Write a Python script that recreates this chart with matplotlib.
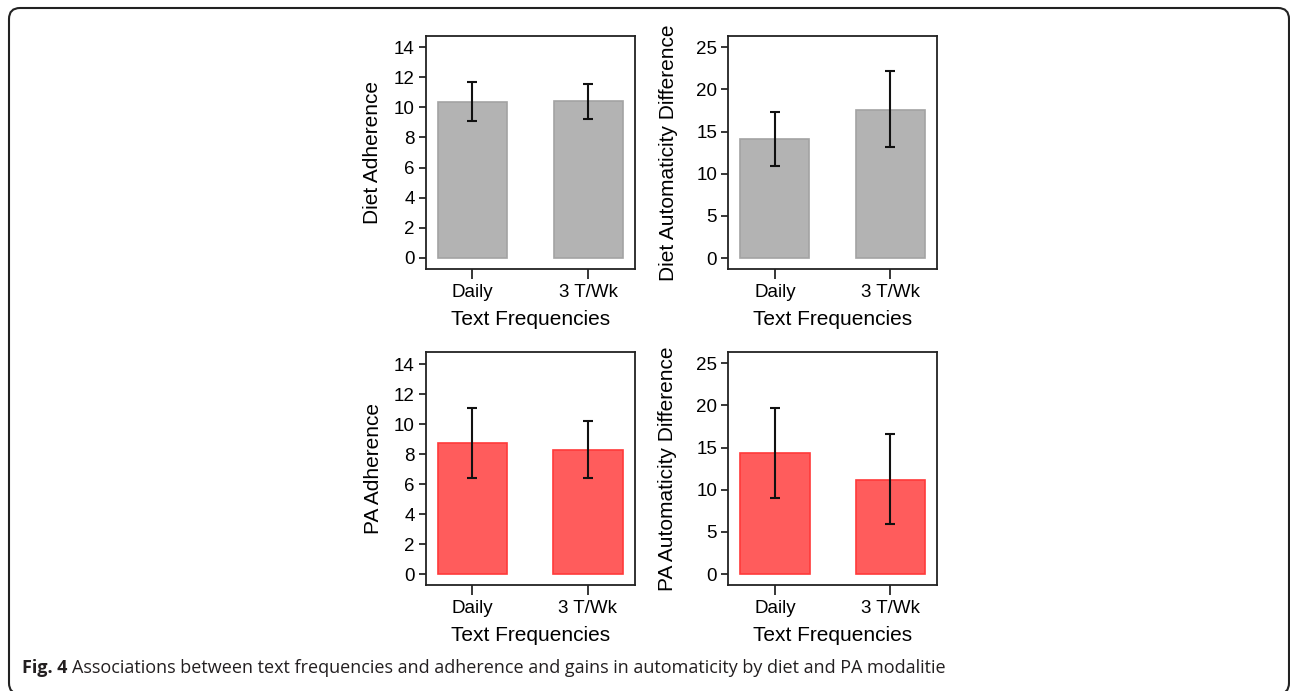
import matplotlib
matplotlib.use("Agg")
import matplotlib.pyplot as plt
from matplotlib.patches import FancyBboxPatch
from matplotlib.transforms import IdentityTransform

# ---- data ----
categories = ["Daily", "3 T/Wk"]
diet_adherence = [10.38, 10.40]
diet_adherence_lo = [9.11, 9.25]
diet_adherence_hi = [11.67, 11.58]

diet_auto = [14.08, 17.60]
diet_auto_lo = [10.91, 13.13]
diet_auto_hi = [17.28, 22.20]

pa_adherence = [8.73, 8.29]
pa_adherence_lo = [6.42, 6.38]
pa_adherence_hi = [11.09, 10.20]

pa_auto = [14.32, 11.19]
pa_auto_lo = [8.98, 5.97]
pa_auto_hi = [19.73, 16.57]

adh_ticks = [0, 2, 4, 6, 8, 10, 12, 14]
auto_ticks = [0, 5, 10, 15, 20, 25]

xlabel = "Text Frequencies"
caption_bold = "Fig. 4"
caption_text = "Associations between text frequencies and adherence and gains in automaticity by diet and PA modalitie"

plt.rcParams["font.family"] = ["Liberation Sans", "DejaVu Sans"]

W, H = 1290, 691
fig = plt.figure(figsize=(W / 100, H / 100), dpi=100)

gray_fc, gray_ec = "#b3b3b3", "#a3a3a3"
red_fc, red_ec = "#ff5c5c", "#ff3a3a"

def px_axes(x0, y0, x1, y1):
    return fig.add_axes([x0 / W, 1 - y1 / H, (x1 - x0) / W, (y1 - y0) / H])

panels = [
    (px_axes(425.7, 35.7, 635.0, 269.0), diet_adherence, diet_adherence_lo, diet_adherence_hi,
     "Diet Adherence", adh_ticks, (-0.75, 14.77), gray_fc, gray_ec, -0.252),
    (px_axes(728.3, 35.7, 936.9, 269.3), diet_auto, diet_auto_lo, diet_auto_hi,
     "Diet Automaticity Difference", auto_ticks, (-1.34, 26.38), gray_fc, gray_ec, -0.289),
    (px_axes(425.7, 351.7, 634.5, 585.0), pa_adherence, pa_adherence_lo, pa_adherence_hi,
     "PA Adherence", adh_ticks, (-0.73, 14.82), red_fc, red_ec, -0.252),
    (px_axes(728.3, 351.7, 937.0, 585.3), pa_auto, pa_auto_lo, pa_auto_hi,
     "PA Automaticity Difference", auto_ticks, (-1.34, 26.38), red_fc, red_ec, -0.289),
]

for ax, vals, lo, hi, ylab, yt, ylim, fc, ec, ylx in panels:
    x = list(range(len(categories)))
    ax.bar(x, vals, width=0.6, color=fc, edgecolor=ec, linewidth=1.2, zorder=2)
    err = [[v - l for v, l in zip(vals, lo)], [h - v for v, h in zip(vals, hi)]]
    ax.errorbar(x, vals, yerr=err, fmt="none", ecolor="#111111", elinewidth=1.5,
                capsize=3.8, capthick=1.5, zorder=3)
    ax.set_xlim(-0.403, 1.403)
    ax.set_ylim(*ylim)
    ax.set_yticks(yt)
    ax.set_xticks(x)
    ax.set_xticklabels(categories)
    ax.tick_params(axis="y", direction="out", length=5, width=1.1, pad=3, labelsize=13.5)
    ax.tick_params(axis="x", direction="out", length=7, width=1.1, pad=3.5, labelsize=13.5)
    for sp in ax.spines.values():
        sp.set_linewidth(1.3)
        sp.set_color("#222222")
    ax.set_ylabel(ylab, fontsize=15, va="center")
    ax.yaxis.set_label_coords(ylx, 0.5)
    ax.set_xlabel(xlabel, fontsize=15, va="center")
    ax.xaxis.set_label_coords(0.5, -0.215)

# frame
frame = FancyBboxPatch((9, -3), 1280, 686, boxstyle="round,pad=0,rounding_size=11",
                       transform=IdentityTransform(), fill=False, edgecolor="#222222",
                       linewidth=1.5)
fig.add_artist(frame)

# caption
cap_y = 1 - 673 / H
t1 = fig.text(21.7 / W, cap_y, caption_bold, fontsize=13, fontweight="bold",
              family=["Open Sans", "DejaVu Sans"], color="#231f20", va="baseline")
fig.canvas.draw()
bb = t1.get_window_extent(renderer=fig.canvas.get_renderer())
fig.text(bb.x1 / W + 5 / W, cap_y, caption_text, fontsize=13,
         family=["Open Sans", "DejaVu Sans"], color="#231f20", va="baseline")

fig.savefig("out.png", dpi=100)
